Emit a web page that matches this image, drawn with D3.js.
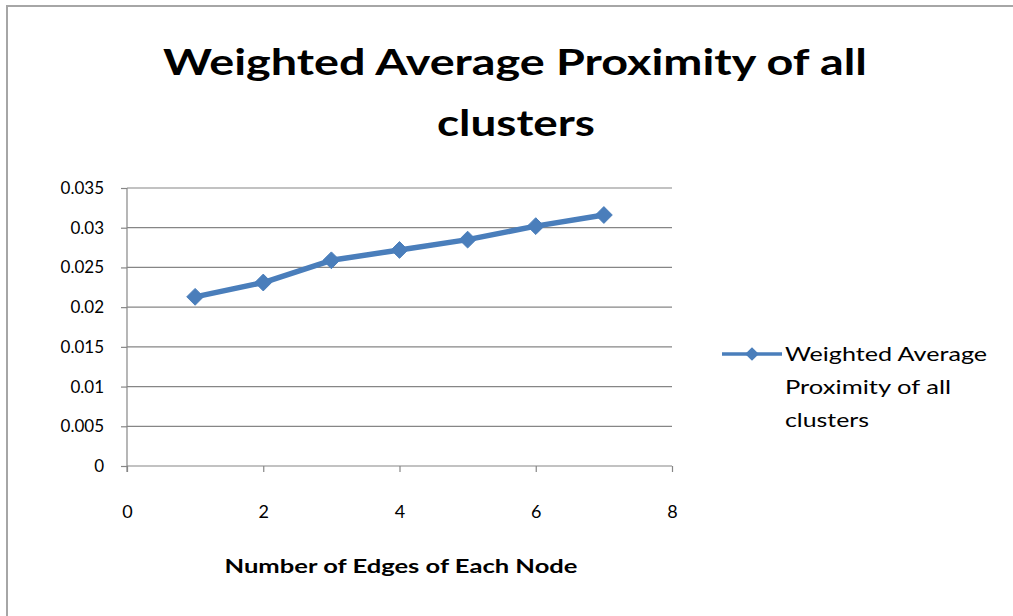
<!DOCTYPE html>
<html>
<head>
<meta charset="utf-8">
<script src="https://cdn.jsdelivr.net/npm/d3@7"></script>
<style>
  html, body { margin: 0; padding: 0; background: #fff; }
  svg { display: block; }
  text { font-family: Lato, "Open Sans", "Noto Sans", sans-serif; fill: #000; }
</style>
</head>
<body>
<svg id="chart" width="1013" height="616"></svg>
<script>
// Weighted average proximity measured for each edge count
const edges = [1, 2, 3, 4, 5, 6, 7];
const proximity = [0.0213, 0.0231, 0.0259, 0.0272, 0.0285, 0.0302, 0.0316];

const xTicks = [0, 2, 4, 6, 8];
const yTicks = [0, 0.005, 0.01, 0.015, 0.02, 0.025, 0.03, 0.035];

const titleLines = ["Weighted Average Proximity of all", "clusters"];
const xTitle = "Number of Edges of Each Node";
const legendLines = ["Weighted Average", "Proximity of all", "clusters"];

const svg = d3.select("#chart");
const W = 1013, H = 616;
const plot = { left: 127, right: 672, top: 188, bottom: 466 };
const seriesColor = "#4a7ebb";
const gridColor = "#868686";

// outer chart frame
svg.append("rect")
  .attr("x", 7).attr("y", 6)
  .attr("width", W + 20).attr("height", H + 20)
  .attr("fill", "#fff")
  .attr("stroke", "#a6a6a6").attr("stroke-width", 2);

const x = d3.scaleLinear().domain([0, 8]).range([plot.left, plot.right]);
const y = d3.scaleLinear().domain([0, 0.035]).range([plot.bottom, plot.top]);

// horizontal gridlines
svg.append("g")
  .selectAll("line")
  .data(yTicks.filter(d => d > 0))
  .join("line")
  .attr("x1", plot.left).attr("x2", plot.right)
  .attr("y1", d => y(d)).attr("y2", d => y(d))
  .attr("stroke", gridColor).attr("stroke-width", 1.2);

// y axis
const yAxis = svg.append("g")
  .attr("transform", `translate(${plot.left},0)`)
  .call(d3.axisLeft(y).tickValues(yTicks).tickSize(6).tickPadding(17)
    .tickFormat(d => d === 0 ? "0" : String(+d.toFixed(3))));
yAxis.select(".domain").attr("stroke", gridColor).attr("stroke-width", 1.2)
  .attr("d", `M0,${plot.top}V${plot.bottom + 6}`);
yAxis.selectAll(".tick line").attr("stroke", gridColor).attr("stroke-width", 1.2);
yAxis.selectAll(".tick text")
  .style("font-family", "Lato, sans-serif").attr("font-size", 17).attr("fill", "#000");

// x axis
const xAxis = svg.append("g")
  .attr("transform", `translate(0,${plot.bottom})`)
  .call(d3.axisBottom(x).tickValues(xTicks).tickSize(6).tickPadding(33)
    .tickFormat(d3.format("d")));
xAxis.select(".domain").attr("stroke", gridColor).attr("stroke-width", 1.2)
  .attr("d", `M${plot.left},0H${plot.right}`);
xAxis.selectAll(".tick line").attr("stroke", gridColor).attr("stroke-width", 1.2);
xAxis.selectAll(".tick text")
  .style("font-family", "Lato, sans-serif").attr("font-size", 18).attr("fill", "#000");

// series line
const pts = edges.map((e, i) => [e, proximity[i]]);
svg.append("path")
  .datum(pts)
  .attr("fill", "none")
  .attr("stroke", seriesColor)
  .attr("stroke-width", 5.5)
  .attr("stroke-linejoin", "round")
  .attr("d", d3.line().x(d => x(d[0])).y(d => y(d[1])));

// diamond markers
const diamond = d3.symbol().type(d3.symbolDiamond2).size(180);
svg.append("g")
  .selectAll("path")
  .data(pts)
  .join("path")
  .attr("transform", d => `translate(${x(d[0])},${y(d[1])})`)
  .attr("d", diamond)
  .attr("fill", seriesColor)
  .attr("stroke", seriesColor).attr("stroke-width", 1);

// title
const title = svg.append("g");
const titleLayout = [
  { cx: 515, base: 75, width: 704 },
  { cx: 516, base: 136, width: 158 }
];
titleLines.forEach((t, i) => {
  title.append("text")
    .attr("x", titleLayout[i].cx).attr("y", titleLayout[i].base)
    .attr("text-anchor", "middle")
    .attr("font-size", 37).attr("font-weight", 700)
    .attr("textLength", titleLayout[i].width)
    .attr("lengthAdjust", "spacingAndGlyphs")
    .text(t);
});

// x axis title
svg.append("text")
  .attr("x", 401).attr("y", 573)
  .attr("text-anchor", "middle")
  .attr("font-size", 19.5).attr("font-weight", 700)
  .attr("textLength", 353).attr("lengthAdjust", "spacingAndGlyphs")
  .text(xTitle);

// legend
const legendWidths = [202, 166, 84];
const legend = svg.append("g").attr("transform", "translate(722,354)");
legend.append("line")
  .attr("x1", 0).attr("x2", 60).attr("y1", 0).attr("y2", 0)
  .attr("stroke", seriesColor).attr("stroke-width", 3.5);
legend.append("path")
  .attr("transform", "translate(30,0)")
  .attr("d", d3.symbol().type(d3.symbolDiamond2).size(120))
  .attr("fill", seriesColor);
legend.selectAll("text.leg")
  .data(legendLines)
  .join("text")
  .attr("class", "leg")
  .attr("x", 63)
  .attr("y", (d, i) => 7 + i * 33)
  .attr("font-size", 20)
  .attr("textLength", (d, i) => legendWidths[i])
  .attr("lengthAdjust", "spacingAndGlyphs")
  .text(d => d);
</script>
</body>
</html>
